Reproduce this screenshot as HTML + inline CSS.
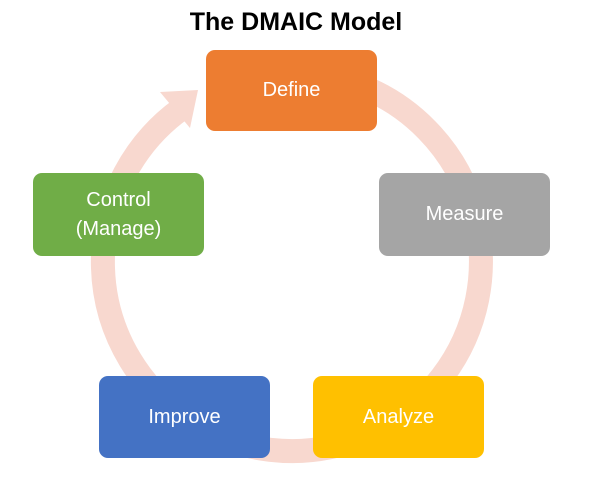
<!DOCTYPE html>
<html><head><style>
body{margin:0;width:612px;height:488px;background:#fff;position:relative;overflow:hidden;font-family:"Liberation Sans",sans-serif}
.t{position:absolute;left:0;width:592px;top:8px;text-align:center;font-weight:bold;font-size:25px;color:#000}
.b{position:absolute;border-radius:9px;color:#fff;font-size:20px;display:flex;align-items:center;justify-content:center;text-align:center;line-height:29px;width:171px;height:83px}
</style></head><body>
<div class="t">The DMAIC Model</div>
<svg width="612" height="488" style="position:absolute;left:0;top:0">
<path d="M259.2 75.9 A189 189 0 1 1 181 109" fill="none" stroke="#f8d8cf" stroke-width="24"/>
<polygon points="160,92 190,128 198,90" fill="#f8d8cf"/>
</svg>
<div class="b" style="left:206px;top:50px;height:81px;background:#ed7d31">Define</div>
<div class="b" style="left:379px;top:173px;background:#a5a5a5">Measure</div>
<div class="b" style="left:313px;top:376px;height:82px;background:#ffc000">Analyze</div>
<div class="b" style="left:99px;top:376px;height:82px;background:#4472c4">Improve</div>
<div class="b" style="left:33px;top:173px;background:#70ad47">Control<br>(Manage)</div>
</body></html>
